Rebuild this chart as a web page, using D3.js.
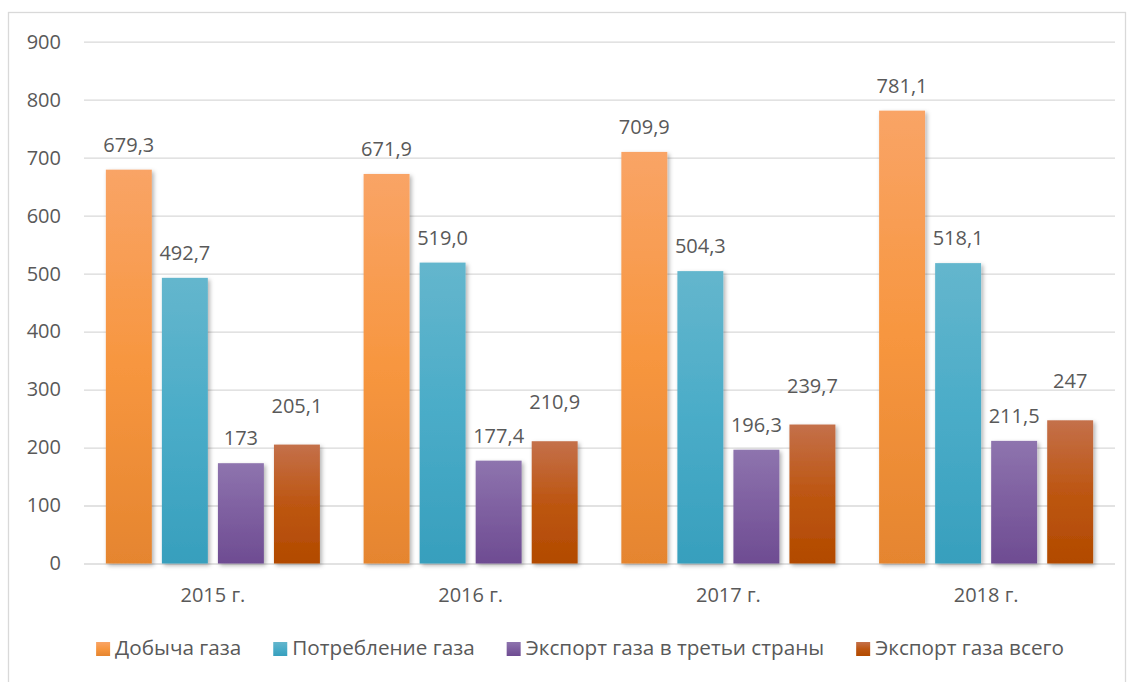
<!DOCTYPE html>
<html>
<head>
<meta charset="utf-8">
<script src="https://cdnjs.cloudflare.com/ajax/libs/d3/7.8.5/d3.min.js"></script>
<style>
  body { margin: 0; background: #fff; }
  text { font-family: "Open Sans", sans-serif; fill: #595959; }
</style>
</head>
<body>
<div class="chart"></div>
<script>
// Data
// ==============================
var years = ["2015 г.", "2016 г.", "2017 г.", "2018 г."];
var seriesNames = ["Добыча газа", "Потребление газа", "Экспорт газа в третьи страны", "Экспорт газа всего"];
var production = [679.3, 671.9, 709.9, 781.1];
var consumption = [492.7, 519.0, 504.3, 518.1];
var exportThird = [173, 177.4, 196.3, 211.5];
var exportTotal = [205.1, 210.9, 239.7, 247];
var labelsProduction = ["679,3", "671,9", "709,9", "781,1"];
var labelsConsumption = ["492,7", "519,0", "504,3", "518,1"];
var labelsExportThird = ["173", "177,4", "196,3", "211,5"];
var labelsExportTotal = ["205,1", "210,9", "239,7", "247"];
var yTicks = [0, 100, 200, 300, 400, 500, 600, 700, 800, 900];

var seriesValues = [production, consumption, exportThird, exportTotal];
var seriesLabels = [labelsProduction, labelsConsumption, labelsExportThird, labelsExportTotal];

// colours: top, middle, bottom of the gradient
var colors = [
  ["#f9a466", "#f7963f", "#e5852f"],
  ["#64b6cd", "#4aacc8", "#379fbd"],
  ["#8e74ae", "#7e5fa0", "#6e4c92"],
  ["#c4704a", "#bd5612", "#b24a00"]
];
var labelGap = [18, 18, 18, 32];

// Step 1: Set up our chart
// ==============================
var svgWidth = 1130;
var svgHeight = 682;
var margin = { top: 41.7, right: 15, bottom: 118.5, left: 84 };
var width = svgWidth - margin.left - margin.right;
var height = svgHeight - margin.top - margin.bottom;

var svg = d3.select(".chart")
  .append("svg")
  .attr("width", svgWidth)
  .attr("height", svgHeight);

// chart area border
svg.append("rect")
  .attr("x", 8.5).attr("y", 12.5)
  .attr("width", 1117).attr("height", 700)
  .attr("fill", "none")
  .attr("stroke", "#d9d9d9")
  .attr("stroke-width", 1.3);

var defs = svg.append("defs");
colors.forEach(function (c, i) {
  var g = defs.append("linearGradient")
    .attr("id", "grad" + i)
    .attr("x1", 0).attr("y1", 0).attr("x2", 0).attr("y2", 1);
  g.append("stop").attr("offset", "0%").attr("stop-color", c[0]);
  g.append("stop").attr("offset", "50%").attr("stop-color", c[1]);
  g.append("stop").attr("offset", "100%").attr("stop-color", c[2]);
});
defs.append("filter")
  .attr("id", "shadow")
  .attr("x", "-20%").attr("y", "-5%").attr("width", "150%").attr("height", "115%")
  .append("feDropShadow")
  .attr("dx", 2).attr("dy", 2).attr("stdDeviation", 2)
  .attr("flood-color", "#000").attr("flood-opacity", 0.3);

var chartGroup = svg.append("g")
  .attr("transform", `translate(${margin.left}, ${margin.top})`);

// Step 2: Scales
// ==============================
var x0 = d3.scaleBand()
  .domain(years)
  .range([0, width])
  .padding(0);

var x1 = d3.scaleBand()
  .domain(d3.range(seriesNames.length))
  .range([0, x0.bandwidth()])
  .paddingInner(0.18)
  .paddingOuter(0.39);

var yLinearScale = d3.scaleLinear()
  .domain([0, 900])
  .range([height, 0]);

// Step 3: Axes and gridlines
// ==============================
var leftAxis = d3.axisLeft(yLinearScale)
  .tickValues(yTicks)
  .tickSize(-width)
  .tickPadding(23);

var yAxis = chartGroup.append("g").call(leftAxis);
yAxis.select(".domain").remove();
yAxis.selectAll("line").attr("stroke", "#d9d9d9").attr("stroke-width", 1.3);
yAxis.selectAll("text")
  .attr("font-size", 20)
  .attr("font-family", "Open Sans, sans-serif")
  .attr("fill", "#595959");

var bottomAxis = d3.axisBottom(x0).tickSize(0).tickPadding(24);
var xAxis = chartGroup.append("g")
  .attr("transform", `translate(0, ${height})`)
  .call(bottomAxis);
xAxis.select(".domain").remove();
xAxis.selectAll("text")
  .attr("font-size", 20)
  .attr("font-family", "Open Sans, sans-serif")
  .attr("fill", "#595959");

// Step 4: Bars
// ==============================
var tableData = [];
years.forEach(function (year, yi) {
  seriesValues.forEach(function (vals, si) {
    tableData.push({ year: year, series: si, value: vals[yi], label: seriesLabels[si][yi] });
  });
});

chartGroup.selectAll(".bar")
  .data(tableData)
  .enter()
  .append("rect")
  .attr("class", "bar")
  .attr("x", d => x0(d.year) + x1(d.series))
  .attr("y", d => yLinearScale(d.value))
  .attr("width", x1.bandwidth())
  .attr("height", d => height - yLinearScale(d.value))
  .attr("fill", d => `url(#grad${d.series})`)
  .attr("filter", "url(#shadow)");

// Step 5: Value labels
// ==============================
chartGroup.selectAll(".valueLabel")
  .data(tableData)
  .enter()
  .append("text")
  .attr("class", "valueLabel")
  .attr("x", d => x0(d.year) + x1(d.series) + x1.bandwidth() / 2)
  .attr("y", d => yLinearScale(d.value) - labelGap[d.series])
  .attr("text-anchor", "middle")
  .attr("font-size", 20)
  .text(d => d.label);

// Step 6: Legend
// ==============================
var legend = svg.append("g");
var legendY = 655;
var swatch = 14;
var items = legend.selectAll(".legendItem")
  .data(seriesNames)
  .enter()
  .append("g")
  .attr("class", "legendItem");

items.append("rect")
  .attr("width", swatch).attr("height", swatch)
  .attr("y", legendY - 13)
  .attr("fill", (d, i) => `url(#grad${i})`);

items.append("text")
  .attr("x", swatch + 5)
  .attr("y", legendY)
  .attr("font-size", 20.7)
  .text(d => d);

var cursor = 0;
var offsets = [];
items.each(function () {
  var w = swatch + 5 + this.querySelector("text").getComputedTextLength();
  offsets.push(cursor);
  cursor += w + 32;
});
var totalW = cursor - 32;
var startX = 580 - totalW / 2;
items.attr("transform", (d, i) => `translate(${startX + offsets[i]}, 0)`);
</script>
</body>
</html>
